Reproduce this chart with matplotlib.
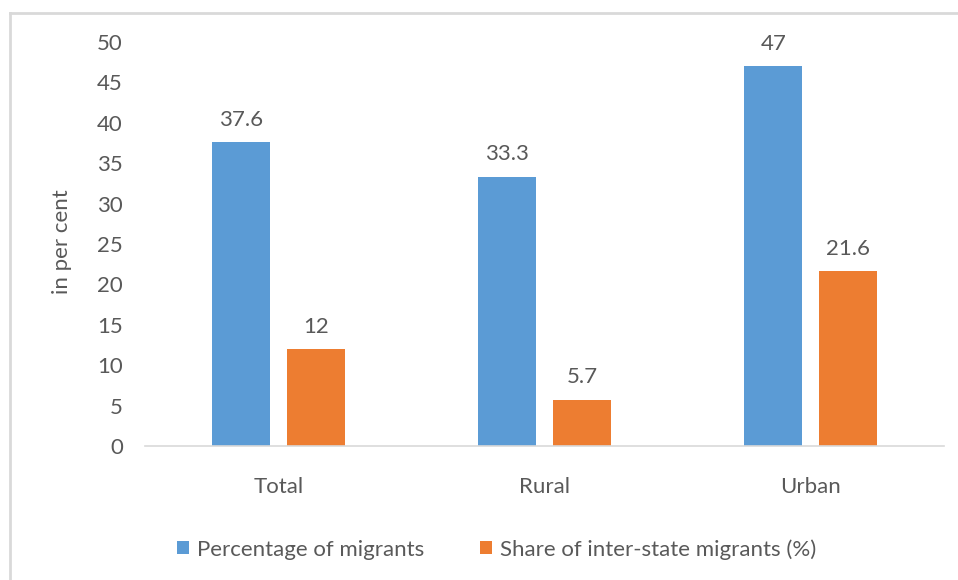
import matplotlib.pyplot as plt
from matplotlib.lines import Line2D
import numpy as np

plt.rcParams['font.family'] = ['Lato', 'DejaVu Sans']

categories = ['Total', 'Rural', 'Urban']
migrants = [37.6, 33.3, 47]
interstate = [12, 5.7, 21.6]
series_names = ['Percentage of migrants', 'Share of inter-state migrants (%)']

blue = '#5b9bd5'
orange = '#ed7d31'
grey_text = '#595959'
fs = 16

fig = plt.figure(figsize=(9.58, 5.8), dpi=100)
ax = fig.add_axes([0.1514, 0.231, 0.834, 0.6966])

x = np.arange(len(categories))
w = 0.218
off = 0.141
b1 = ax.bar(x - off, migrants, w, color=blue, label=series_names[0])
b2 = ax.bar(x + off, interstate, w, color=orange, label=series_names[1])

for bars, vals in ((b1, migrants), (b2, interstate)):
    for rect, v in zip(bars, vals):
        ax.annotate(f'{v:g}', (rect.get_x() + rect.get_width() / 2, rect.get_height()),
                    xytext=(0, 9), textcoords='offset points', ha='center', va='bottom',
                    fontsize=fs, color=grey_text)

ax.set_xlim(-0.5, 2.5)
ax.set_ylim(0, 50)
ax.set_yticks(range(0, 51, 5))
ax.set_xticks(x)
ax.set_xticklabels(categories)
ax.tick_params(axis='both', length=0, labelsize=fs, colors=grey_text)
ax.tick_params(axis='y', pad=16)
ax.tick_params(axis='x', pad=22)
for s in ('top', 'right', 'left'):
    ax.spines[s].set_visible(False)
ax.spines['bottom'].set_color('#d9d9d9')
ax.spines['bottom'].set_linewidth(1.2)

fig.text(0.0647, 0.583, 'in per cent', rotation=90, ha='center', va='center',
         fontsize=fs, color=grey_text)

fig.legend(loc='center', bbox_to_anchor=(0.518, 0.053), ncol=2, frameon=False,
           fontsize=fs, labelcolor=grey_text, handlelength=0.55, handleheight=0.55,
           handletextpad=0.35, columnspacing=2.5)

# light frame around chart (top and left edges visible)
fig.add_artist(Line2D([0.0105, 1.0], [1 - 13 / 580, 1 - 13 / 580], transform=fig.transFigure,
                      color='#d9d9d9', lw=2))
fig.add_artist(Line2D([0.0105, 0.0105], [0.0, 1 - 13 / 580], transform=fig.transFigure,
                      color='#d9d9d9', lw=2))

fig.savefig('out.png', dpi=100)
